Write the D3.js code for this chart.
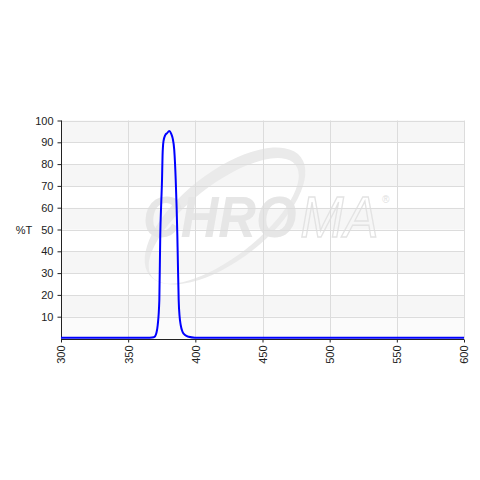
<!DOCTYPE html>
<html><head><meta charset="utf-8">
<script src="https://cdn.jsdelivr.net/npm/d3@7"></script>
<style>body{margin:0;background:#fff}svg{display:block}text{font-family:Arial,"Liberation Sans",sans-serif}</style>
</head><body>
<script>
const wavelength = [300, 340, 360, 366, 369, 370, 371, 372, 373.2, 373.9, 374.6, 375.2, 375.6, 376.3, 377.6, 379, 380.6, 382, 383.1, 384.3, 385.4, 386.6, 386.9, 387.6, 388.3, 389.1, 390.5, 392.3, 395, 399.7, 420, 500, 600];
const transmission = [0.3, 0.3, 0.3, 0.4, 0.6, 1.0, 2.5, 6.2, 17.7, 47.5, 62, 72.7, 84, 90.5, 93.3, 94.2, 95.2, 94.0, 91.9, 86.5, 72.7, 47.5, 38.3, 17.7, 10, 6.2, 3, 1.6, 0.8, 0.4, 0.3, 0.3, 0.3];
const xTicks = [300, 350, 400, 450, 500, 550, 600];
const yTicks = [10, 20, 30, 40, 50, 60, 70, 80, 90, 100];
const bands = [0, 10, 20, 30, 40, 50, 60, 70, 80, 90];
const yLabel = "%T";
const watermark = ["CHRO", "MA"];

const W = 480, H = 480;
const m = {l: 61, r: 16, t: 120.5, b: 141.5};
const svg = d3.select("body").append("svg").attr("width", W).attr("height", H);
const x = d3.scaleLinear().domain([300, 600]).range([m.l, W - m.r]);
const y = d3.scaleLinear().domain([0, 100]).range([H - m.b, m.t]);

// bands
svg.append("g").selectAll("rect").data(bands).join("rect")
  .attr("x", x(300)).attr("width", x(600) - x(300))
  .attr("y", d => y(d + 10)).attr("height", d => y(d) - y(d + 10))
  .attr("fill", d => (d / 10) % 2 === 1 ? "#f6f6f6" : ((d === 0) ? "#fbfbfb" : "#ffffff"));

// watermark
const wm = svg.append("g");
const cx = 225, cy = 216;
wm.append("path")
  .attr("transform", `translate(${cx},${cy}) rotate(-38)`)
  .attr("fill", "#eaeaea").attr("fill-rule", "evenodd")
  .attr("d", () => {
    const e = (rx, ry, ox, oy) => `M${ox - rx},${oy} a${rx},${ry} 0 1,0 ${2 * rx},0 a${rx},${ry} 0 1,0 ${-2 * rx},0 Z`;
    return e(96, 44, 0, 0) + e(91, 36, -4, 3);
  });
const wt = wm.append("text").attr("transform", "translate(143,237) scale(0.9,1)")
  .attr("font-size", 58).attr("font-style", "italic");
wt.append("tspan").attr("font-weight", "bold").attr("fill", "#e6e6e6").text(watermark[0]);
wt.append("tspan").attr("dx", 4).attr("fill", "none").attr("stroke", "#e3e3e3").attr("stroke-width", 1.4).text(watermark[1]);
wt.append("tspan").attr("font-size", 11).attr("dx", 4).attr("dy", -34).attr("fill", "#e0e0e0").text("®");

// grid
svg.append("g").selectAll("line").data(yTicks).join("line")
  .attr("x1", x(300)).attr("x2", x(600)).attr("y1", d => Math.round(y(d)) + 0.5).attr("y2", d => Math.round(y(d)) + 0.5)
  .attr("stroke", "#dcdcdc");
svg.append("g").selectAll("line").data(xTicks.slice(1)).join("line")
  .attr("y1", y(100)).attr("y2", y(0)).attr("x1", d => Math.round(x(d)) + 0.5).attr("x2", d => Math.round(x(d)) + 0.5)
  .attr("stroke", "#dcdcdc");

// axes
const ya = svg.append("g").attr("transform", `translate(${Math.round(x(300)) + 0.5},0)`)
  .call(d3.axisLeft(y).tickValues(yTicks).tickSize(4).tickPadding(4));
ya.select(".domain").attr("stroke", "#222").attr("d", `M0,${y(100)}V${y(0)}`);
ya.selectAll(".tick line").attr("stroke", "#222");
ya.selectAll(".tick text").attr("font-size", 11).attr("fill", "#222").attr("font-family", "Arial, 'Liberation Sans', sans-serif");

const xa = svg.append("g").attr("transform", `translate(0,${Math.round(y(0)) + 0.5})`)
  .call(d3.axisBottom(x).tickValues(xTicks).tickSize(3).tickPadding(4));
xa.select(".domain").attr("stroke", "#222").attr("d", `M${x(300)},0H${x(600)}`);
xa.selectAll(".tick line").attr("stroke", "#222");
xa.selectAll(".tick text").attr("font-size", 11).attr("fill", "#222")
  .attr("font-family", "Arial, 'Liberation Sans', sans-serif")
  .attr("transform", "rotate(-90)").attr("text-anchor", "end").attr("x", -6).attr("y", 0).attr("dy", "0.35em");

svg.append("text").attr("x", 24).attr("y", 234).attr("text-anchor", "middle")
  .attr("font-size", 11).attr("fill", "#222").text(yLabel);

// curve
const line = d3.line().x((d, i) => x(wavelength[i])).y(d => y(d)).curve(d3.curveMonotoneX);
svg.append("path").datum(transmission).attr("d", line)
  .attr("fill", "none").attr("stroke", "#0000ff").attr("stroke-width", 2).attr("stroke-linejoin", "round");
</script>
</body></html>
